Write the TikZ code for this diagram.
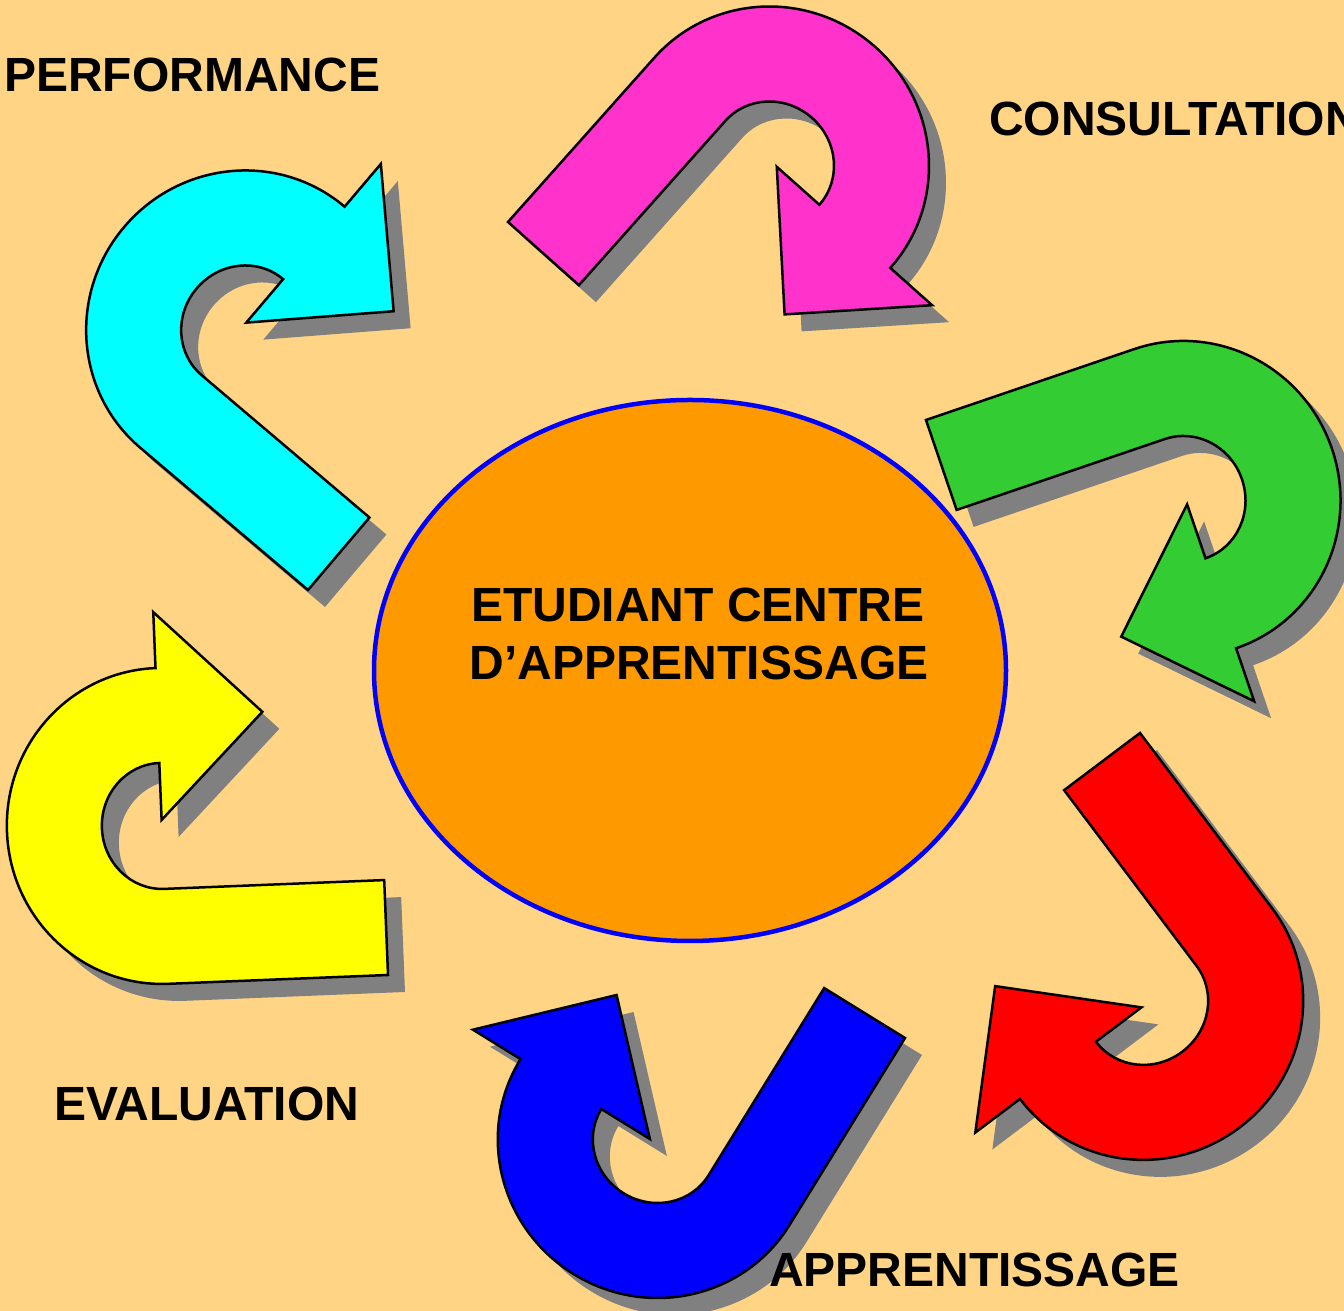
\documentclass[tikz,border=0pt]{standalone}
\usepackage{fontspec}
\setmainfont{Liberation Sans}
\usepackage{tikz}
\usetikzlibrary{shapes.geometric}
\definecolor{bgpeach}{RGB}{255,213,133}
\definecolor{hubfill}{RGB}{255,153,0}
\definecolor{shadowgray}{RGB}{128,128,128}
\definecolor{turnmagenta}{RGB}{255,51,204}
\definecolor{turncyan}{RGB}{0,255,255}
\definecolor{turngreen}{RGB}{51,204,51}
\definecolor{turnyellow}{RGB}{255,255,0}
\definecolor{turnred}{RGB}{255,0,0}
\definecolor{turnblue}{RGB}{0,0,255}
\pgfmathsetmacro{\stemlen}{220}
\pgfmathsetmacro{\bendlen}{155}
\pgfmathsetmacro{\bendrad}{158}
\pgfmathsetmacro{\holelen}{60}
\pgfmathsetmacro{\holerad}{63}
\pgfmathsetmacro{\shaftw}{95}
\pgfmathsetmacro{\headtip}{115}
\pgfmathsetmacro{\shadowoff}{17}
% outline of one u-turn arrow, tail corner at the origin, stem along x
\newcommand{\uturnoutline}{(0,0) -- (\stemlen,0)
  arc[start angle=90, end angle=-90, x radius=\bendlen, y radius=\bendrad]
  -- (\stemlen,-372) -- (\headtip,-268) -- (\stemlen,-164) -- (\stemlen,-221)
  arc[start angle=-90, end angle=90, x radius=\holelen, y radius=\holerad]
  -- (0,-\shaftw) -- cycle}
\tikzset{
  arrowedge/.style={draw=black, line width=2.5pt, line join=miter},
  arrowshadow/.style={fill=shadowgray},
  hub/.style={ellipse, draw=turnblue, line width=4.5pt, fill=hubfill,
    minimum width=632pt, minimum height=541pt, inner sep=0pt},
  cyclelabel/.style={font=\fontsize{48}{57}\selectfont\bfseries,
    inner sep=0pt, anchor=base west},
  hubtext/.style={font=\fontsize{48}{57}\selectfont\bfseries,
    inner sep=0pt, anchor=base},
}
% shadow first, then the arrow: position, angle, colour
\newcommand{\uturnarrow}[3]{%
  \fill[arrowshadow, shift={(#1)}, shift={(\shadowoff,-\shadowoff)}, rotate=#2] \uturnoutline;
  \draw[arrowedge, fill=#3, shift={(#1)}, rotate=#2] \uturnoutline;
}

\begin{document}
\begin{tikzpicture}[x=1pt, y=1pt]
    % page
    \useasboundingbox (0,0) rectangle (1344,1311);
    \clip (0,0) rectangle (1344,1311);
    \fill[bgpeach] (0,0) rectangle (1344,1311);
    % centre
    \node[hub] (hub) at (690,640.5) {};
    \node[hubtext] (hubtop) at (698,689) {ETUDIANT CENTRE};
    \node[hubtext] (hubbot) at (699,631) {D’APPRENTISSAGE};
    % arrows round the centre
    \uturnarrow{508,1089}{48.3}{turnmagenta}
    \uturnarrow{926,891}{18.8}{turngreen}
    \uturnarrow{1140,578}{-53}{turnred}
    \uturnarrow{905,273}{238.3}{turnblue}
    \uturnarrow{388,336}{182.3}{turnyellow}
    \uturnarrow{308,721}{139.7}{turncyan}
    % add labels
    \node[cyclelabel] (perf) at (4,1219) {PERFORMANCE};
    \node[cyclelabel] (consult) at (989,1175) {CONSULTATION};
    \node[cyclelabel] (eval) at (54,190) {EVALUATION};
    \node[cyclelabel] (learn) at (769,24) {APPRENTISSAGE};
\end{tikzpicture}
\end{document}
